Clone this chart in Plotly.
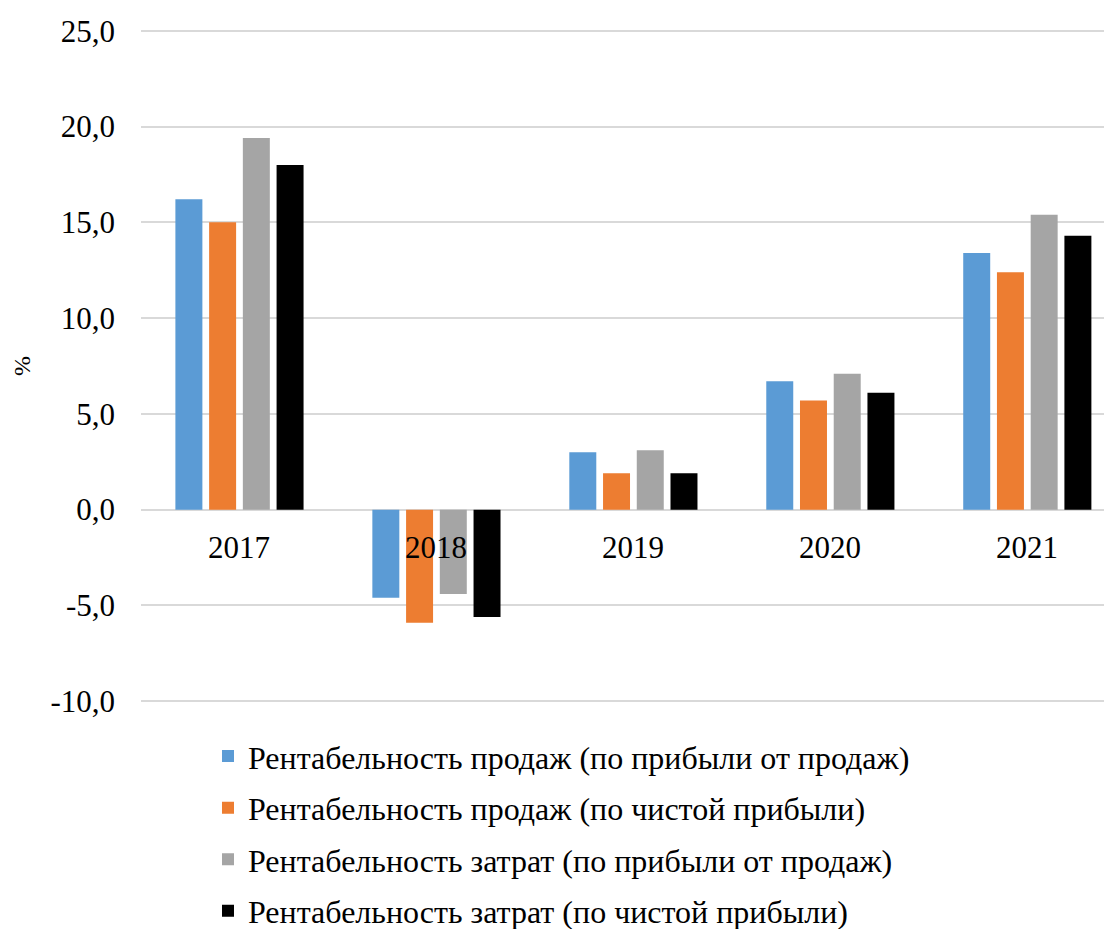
import plotly.graph_objects as go

years = ['2017', '2018', '2019', '2020', '2021']

sales_profit = [16.2, -4.6, 3.0, 6.7, 13.4]
sales_net = [15.0, -5.9, 1.9, 5.7, 12.4]
cost_profit = [19.4, -4.4, 3.1, 7.1, 15.4]
cost_net = [18.0, -5.6, 1.9, 6.1, 14.3]

series = [
    ('Рентабельность продаж (по прибыли от продаж)', sales_profit, '#5B9BD5'),
    ('Рентабельность продаж (по чистой прибыли)', sales_net, '#ED7D31'),
    ('Рентабельность затрат (по прибыли от продаж)', cost_profit, '#A5A5A5'),
    ('Рентабельность затрат (по чистой прибыли)', cost_net, '#000000'),
]

y_ticks = [-10, -5, 0, 5, 10, 15, 20, 25]
y_tick_labels = ['-10,0', '-5,0', '0,0', '5,0', '10,0', '15,0', '20,0', '25,0']

FONT = 'Liberation Serif, Times New Roman, serif'

fig = go.Figure()

for i, (name, vals, color) in enumerate(series):
    fig.add_trace(go.Bar(
        x=years,
        y=vals,
        name=name,
        legendgroup=str(i),
        marker=dict(color=color, line=dict(width=0)),
    ))

# category labels sit just under the zero line, as in the original
for i, yr in enumerate(years):
    fig.add_annotation(
        x=i, y=0, xref='x', yref='y', text=yr, showarrow=False,
        yanchor='middle', yshift=-38,
        font=dict(family=FONT, size=31, color='#000000'),
    )

# axis title
fig.add_annotation(
    x=-0.1226, y=0.5, xref='paper', yref='paper', text='%',
    showarrow=False, textangle=-90, xanchor='center', yanchor='middle',
    font=dict(family=FONT, size=24, color='#000000'),
)

# page body adds an 8px offset, so the figure is 8px smaller than the window
fig.update_layout(
    width=1104,
    height=921,
    margin=dict(l=133, r=0, t=19, b=224, autoexpand=False),
    plot_bgcolor='white',
    paper_bgcolor='white',
    barmode='group',
    bargap=0.315,
    bargroupgap=0.2,
    font=dict(family=FONT, size=30, color='#000000'),
    showlegend=True,
    legend=dict(
        orientation='v',
        x=0.069, xanchor='left',
        y=-0.035, yanchor='top',
        font=dict(family=FONT, size=32),
        tracegroupgap=7,
        itemclick=False,
    ),
    xaxis=dict(
        type='category',
        range=[-0.5, 4.43],
        showticklabels=False,
        showgrid=False,
        zeroline=False,
        showline=False,
        ticks='',
        automargin=False,
    ),
    yaxis=dict(
        range=[-10.2, 25.2],
        tickvals=y_ticks,
        ticktext=y_tick_labels,
        tickfont=dict(family=FONT, size=31),
        showgrid=True,
        gridcolor='#D9D9D9',
        gridwidth=1.5,
        zeroline=True,
        zerolinecolor='#D9D9D9',
        zerolinewidth=1.5,
        ticklabelstandoff=25,
        automargin=False,
    ),
)

fig.write_html("out.html")
